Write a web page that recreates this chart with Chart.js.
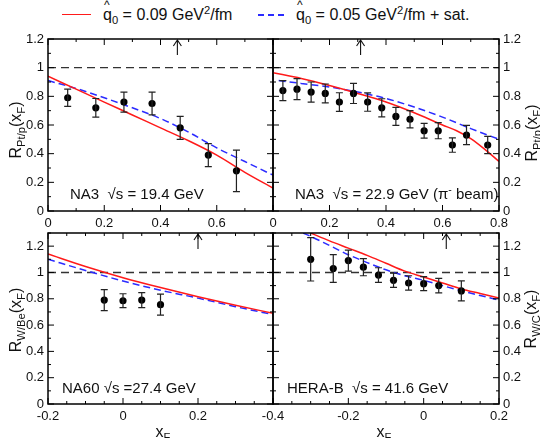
<!DOCTYPE html>
<html lang="en">
<head>
<meta charset="UTF-8">
<title>R(xF) suppression, four experiments</title>
<script src="https://cdn.jsdelivr.net/npm/chart.js"></script>
<style>
  html, body { margin: 0; padding: 0; background: #fff; }
  body { width: 540px; height: 438px; position: relative; overflow: hidden;
         font-family: "Liberation Sans", Arial, sans-serif; color: #111; }
  canvas { position: absolute; left: 0; top: 0; }
  .abs { position: absolute; white-space: nowrap; line-height: 1; }
  .note { font-size: 15px; transform: translateY(-50%); }
  .ytitle { font-size: 16px; transform: translate(-50%, -50%) rotate(-90deg); }
  .xtitle { font-size: 16px; transform: translateX(-50%); }
  .legtxt { font-size: 16px; transform: translateY(-50%); }
  sub { font-size: 70%; vertical-align: -0.35em; line-height: 0; }
  sup { font-size: 70%; vertical-align: 0.55em; line-height: 0; }
  .qh { position: relative; display: inline-block; }
  .qh .hat { position: absolute; left: 1px; top: -8px; font-size: 12px; }
</style>
</head>
<body>
  <!-- legend -->
  <div class="abs" style="left:62px;top:14px;width:29px;height:0;border-top:1.5px solid #ff1a1a"></div>
  <div class="abs legtxt" style="left:103px;top:15px"><span class="qh">q<span class="hat">^</span></span><sub>0</sub> = 0.09 GeV<sup>2</sup>/fm</div>
  <div class="abs" style="left:258px;top:14px;width:29px;height:1.5px;background:repeating-linear-gradient(to right,#2b2bff 0 6px,transparent 6px 10px)"></div>
  <div class="abs legtxt" style="left:296px;top:15px"><span class="qh">q<span class="hat">^</span></span><sub>0</sub> = 0.05 GeV<sup>2</sup>/fm + sat.</div>

  <canvas id="tl" width="540" height="438"></canvas>
  <canvas id="tr" width="540" height="438"></canvas>
  <canvas id="bl" width="540" height="438"></canvas>
  <canvas id="br" width="540" height="438"></canvas>

  <!-- panel notes -->
  <div class="abs note" style="left:70px;top:193px">NA3&nbsp;&nbsp;√s = 19.4 GeV</div>
  <div class="abs note" style="left:295px;top:193px">NA3&nbsp;&nbsp;√s = 22.9 GeV (π<sup>-</sup> beam)</div>
  <div class="abs note" style="left:62px;top:387px">NA60 √s =27.4 GeV</div>
  <div class="abs note" style="left:287px;top:387px">HERA-B&nbsp;&nbsp;√s = 41.6 GeV</div>

  <!-- axis titles -->
  <div class="abs ytitle" style="left:16px;top:130px">R<sub>Pt/p</sub>(x<sub>F</sub>)</div>
  <div class="abs ytitle" style="left:532px;top:133px">R<sub>Pt/p</sub>(x<sub>F</sub>)</div>
  <div class="abs ytitle" style="left:16px;top:320px">R<sub>W/Be</sub>(x<sub>F</sub>)</div>
  <div class="abs ytitle" style="left:531px;top:319px">R<sub>W/C</sub>(x<sub>F</sub>)</div>
  <div class="abs xtitle" style="left:163px;top:424px">x<sub>F</sub></div>
  <div class="abs xtitle" style="left:384px;top:424px">x<sub>F</sub></div>

<script>
// ---- NA3, sqrt(s) = 19.4 GeV (Pt/p) ----
const na3aX    = [0.07, 0.17, 0.27, 0.37, 0.47, 0.57, 0.67];
const na3aR    = [0.79, 0.72, 0.76, 0.75, 0.58, 0.39, 0.28];
const na3aErr  = [0.06, 0.065, 0.07, 0.08, 0.08, 0.08, 0.145];
const na3aCurveX = [0, 0.1, 0.2, 0.3, 0.4, 0.5, 0.6, 0.7, 0.8];
const na3aRed    = [0.94, 0.85, 0.76, 0.67, 0.58, 0.49, 0.39, 0.27, 0.16];
const na3aBlue   = [0.91, 0.855, 0.79, 0.72, 0.645, 0.55, 0.44, 0.345, 0.25];

// ---- NA3, sqrt(s) = 22.9 GeV (pi- beam) ----
const na3bX   = [0.035, 0.085, 0.135, 0.185, 0.235, 0.285, 0.335, 0.385, 0.435, 0.485, 0.535, 0.585, 0.635, 0.685, 0.76];
const na3bR   = [0.84, 0.85, 0.83, 0.82, 0.76, 0.82, 0.76, 0.72, 0.66, 0.64, 0.56, 0.56, 0.46, 0.53, 0.46];
const na3bErr = [0.07, 0.073, 0.07, 0.066, 0.065, 0.07, 0.064, 0.063, 0.063, 0.06, 0.052, 0.056, 0.05, 0.067, 0.06];
const na3bRedX  = [0, 0.1, 0.2, 0.3, 0.4, 0.5, 0.6, 0.65, 0.7, 0.75, 0.8];
const na3bRed   = [0.965, 0.925, 0.875, 0.82, 0.76, 0.685, 0.6, 0.56, 0.505, 0.43, 0.345];
const na3bBlueX = [0.02, 0.1, 0.2, 0.3, 0.4, 0.5, 0.6, 0.7, 0.8];
const na3bBlue  = [0.91, 0.89, 0.865, 0.83, 0.785, 0.725, 0.655, 0.575, 0.5];

// ---- NA60, sqrt(s) = 27.4 GeV (W/Be) ----
const na60X   = [-0.05, 0, 0.05, 0.1];
const na60R   = [0.79, 0.785, 0.79, 0.755];
const na60Err = [0.08, 0.053, 0.057, 0.08];
const na60CurveX = [-0.2, -0.1, 0, 0.1, 0.2, 0.3, 0.4];
const na60Red    = [1.14, 1.045, 0.96, 0.885, 0.815, 0.75, 0.69];
const na60Blue   = [1.10, 1.015, 0.935, 0.865, 0.805, 0.74, 0.68];

// ---- HERA-B, sqrt(s) = 41.6 GeV (W/C) ----
const herabX   = [-0.3, -0.24, -0.2, -0.16, -0.12, -0.08, -0.04, 0, 0.04, 0.1];
const herabR   = [1.10, 1.03, 1.09, 1.04, 0.98, 0.94, 0.92, 0.915, 0.90, 0.86];
const herabErr = [0.165, 0.105, 0.08, 0.065, 0.056, 0.054, 0.055, 0.053, 0.055, 0.076];
const herabRedX  = [-0.3, -0.25, -0.2, -0.15, -0.1, -0.05, 0, 0.05, 0.1, 0.15, 0.2];
const herabRed   = [1.30, 1.24, 1.185, 1.13, 1.07, 1.01, 0.965, 0.92, 0.875, 0.84, 0.805];
const herabBlueX = [-0.32, -0.3, -0.25, -0.2, -0.15, -0.1, -0.05, 0, 0.05, 0.1, 0.15, 0.2];
const herabBlue  = [1.30, 1.275, 1.205, 1.135, 1.075, 1.02, 0.975, 0.94, 0.9, 0.86, 0.825, 0.79];

// arrows (x position of the marker at the top of each panel)
const arrowTL = 0.46, arrowTR = 0.31, arrowBL = 0.2, arrowBR = 0.06;

// tick labels
const topYTicks  = [0, 0.2, 0.4, 0.6, 0.8, 1, 1.2];
const botYTicks  = [0, 0.2, 0.4, 0.6, 0.8, 1, 1.2];
const tlXTicks   = [0, 0.2, 0.4, 0.6];
const trXTicks   = [0, 0.2, 0.4, 0.6, 0.8];
const blXTicks   = [-0.2, 0, 0.2];
const brXTicks   = [-0.4, -0.2, 0, 0.2];

const pts = (xs, ys) => xs.map((x, i) => ({ x, y: ys[i] }));

function frame(p) {
  return {
    id: 'frame',
    beforeDatasetsDraw(chart) {
      const { ctx, chartArea: a, scales: { y } } = chart;
      const y1 = y.getPixelForValue(1);
      ctx.save();
      ctx.strokeStyle = '#333';
      ctx.lineWidth = 1.4;
      ctx.setLineDash([8, 5]);
      ctx.beginPath(); ctx.moveTo(a.left, y1); ctx.lineTo(a.right, y1); ctx.stroke();
      ctx.restore();
    },
    afterDatasetsDraw(chart) {
      const { ctx, chartArea: a, scales: { x, y } } = chart;
      ctx.save();
      // error bars
      ctx.strokeStyle = '#222';
      ctx.lineWidth = 1.2;
      p.ex.forEach((v, i) => {
        const xp = x.getPixelForValue(v);
        const lo = y.getPixelForValue(p.ey[i] - p.err[i]);
        const hi = y.getPixelForValue(p.ey[i] + p.err[i]);
        ctx.beginPath();
        ctx.moveTo(xp, lo); ctx.lineTo(xp, hi);
        ctx.moveTo(xp - 3.5, lo); ctx.lineTo(xp + 3.5, lo);
        ctx.moveTo(xp - 3.5, hi); ctx.lineTo(xp + 3.5, hi);
        ctx.stroke();
      });
      // arrow
      const ax = x.getPixelForValue(p.arrow);
      ctx.strokeStyle = '#111';
      ctx.lineWidth = 1.1;
      ctx.beginPath();
      ctx.moveTo(ax, a.top + 1); ctx.lineTo(ax, a.top + 16);
      ctx.moveTo(ax - 4, a.top + 7); ctx.lineTo(ax, a.top + 1); ctx.lineTo(ax + 4, a.top + 7);
      ctx.stroke();
      // ticks (inward on all four sides)
      ctx.strokeStyle = '#000';
      ctx.lineWidth = 1;
      const ticks = (min, max, minor, major, fn) => {
        const n = Math.round((max - min) / minor);
        for (let k = 0; k <= n; k++) {
          const v = min + k * minor;
          const r = v / major;
          fn(v, Math.abs(r - Math.round(r)) < 1e-6 ? 6 : 3);
        }
      };
      ctx.beginPath();
      ticks(x.min, x.max, p.xMinor, 0.2, (v, len) => {
        const xp = x.getPixelForValue(v);
        ctx.moveTo(xp, a.bottom); ctx.lineTo(xp, a.bottom - len);
        ctx.moveTo(xp, a.top); ctx.lineTo(xp, a.top + len);
      });
      ticks(y.min, y.max, 0.1, 0.2, (v, len) => {
        const yp = y.getPixelForValue(v);
        ctx.moveTo(a.left, yp); ctx.lineTo(a.left + len, yp);
        ctx.moveTo(a.right, yp); ctx.lineTo(a.right - len, yp);
      });
      ctx.stroke();
      // frame
      ctx.lineWidth = 1.5;
      ctx.strokeRect(a.left, a.top, a.right - a.left, a.bottom - a.top);
      // tick labels
      ctx.fillStyle = '#111';
      ctx.font = '13px "Liberation Sans", Arial, sans-serif';
      ctx.textAlign = 'center';
      ctx.textBaseline = 'middle';
      p.xTicks.forEach(v => ctx.fillText(String(v), x.getPixelForValue(v), a.bottom + 12));
      if (p.ySide === 'left') {
        ctx.textAlign = 'right';
        p.yTicks.forEach(v => ctx.fillText(String(v), a.left - p.yGap, y.getPixelForValue(v)));
      } else {
        ctx.textAlign = 'left';
        p.yTicks.forEach(v => ctx.fillText(String(v), a.right + p.yGap, y.getPixelForValue(v)));
      }
      ctx.restore();
    }
  };
}

function panel(id, area, xr, yr, sets, p) {
  new Chart(document.getElementById(id), {
    type: 'scatter',
    data: {
      datasets: [
        { data: pts(p.ex, p.ey), pointRadius: 3.6, pointBackgroundColor: '#000',
          pointBorderWidth: 0, showLine: false },
        { data: sets.red, showLine: true, borderColor: '#ff1a1a', borderWidth: 1.5,
          pointRadius: 0, tension: 0.4, cubicInterpolationMode: 'monotone' },
        { data: sets.blue, showLine: true, borderColor: '#2b2bff', borderWidth: 1.5,
          borderDash: [7, 4], pointRadius: 0, tension: 0.4, cubicInterpolationMode: 'monotone' }
      ]
    },
    options: {
      responsive: false,
      animation: false,
      devicePixelRatio: 1,
      layout: { padding: { left: area[0], top: area[1], right: 540 - area[2], bottom: 438 - area[3] } },
      scales: {
        x: { type: 'linear', min: xr[0], max: xr[1], display: false },
        y: { type: 'linear', min: yr[0], max: yr[1], display: false }
      },
      plugins: { legend: { display: false }, tooltip: { enabled: false } }
    },
    plugins: [frame(p)]
  });
}

panel('tl', [48, 39, 273, 211], [0, 0.8], [0, 1.2],
  { red: pts(na3aCurveX, na3aRed), blue: pts(na3aCurveX, na3aBlue) },
  { ex: na3aX, ey: na3aR, err: na3aErr, arrow: arrowTL, xMinor: 0.1,
    xTicks: tlXTicks, yTicks: topYTicks, ySide: 'left', yGap: 4 });

panel('tr', [273, 39, 499, 211], [0, 0.8], [0, 1.2],
  { red: pts(na3bRedX, na3bRed), blue: pts(na3bBlueX, na3bBlue) },
  { ex: na3bX, ey: na3bR, err: na3bErr, arrow: arrowTR, xMinor: 0.1,
    xTicks: trXTicks, yTicks: topYTicks, ySide: 'right', yGap: 4 });

panel('bl', [48, 233, 273, 404], [-0.2, 0.4], [0, 1.3],
  { red: pts(na60CurveX, na60Red), blue: pts(na60CurveX, na60Blue) },
  { ex: na60X, ey: na60R, err: na60Err, arrow: arrowBL, xMinor: 0.05,
    xTicks: blXTicks, yTicks: botYTicks, ySide: 'left', yGap: 4 });

panel('br', [273, 233, 499, 404], [-0.4, 0.2], [0, 1.3],
  { red: pts(herabRedX, herabRed), blue: pts(herabBlueX, herabBlue) },
  { ex: herabX, ey: herabR, err: herabErr, arrow: arrowBR, xMinor: 0.05,
    xTicks: brXTicks, yTicks: botYTicks, ySide: 'right', yGap: 4 });
</script>
</body>
</html>
